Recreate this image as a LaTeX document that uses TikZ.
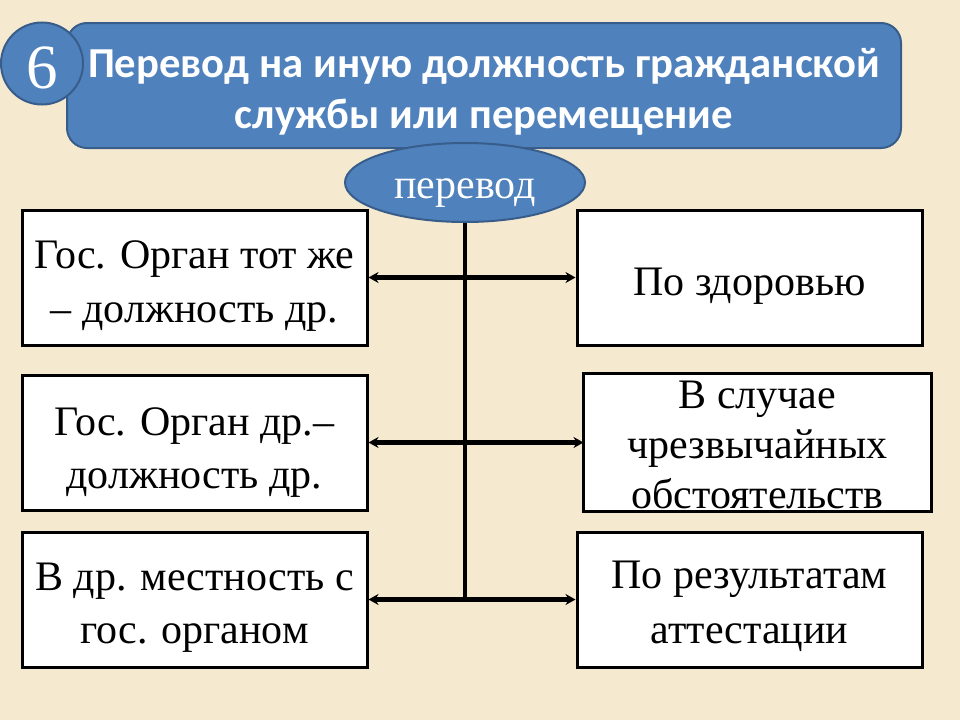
\documentclass[tikz,border=0pt]{standalone}
\usepackage{fontspec}
\setmainfont{Liberation Serif}
\newfontfamily\hdrfont{Carlito}
\usetikzlibrary{shapes.geometric,arrows.meta}
\definecolor{bgc}{RGB}{245,234,207}
\definecolor{bluefill}{RGB}{79,129,189}
\definecolor{blueline}{RGB}{56,93,138}
% #1 raise of first baseline above node centre, #2 line spacing, #3 lines separated by \cr
\newcommand\txtblk[3]{\raisebox{#1}[0pt][0pt]{\vtop{\baselineskip=#2\lineskiplimit=-100pt\lineskip=0pt\halign{\hfil##\hfil\cr#3\crcr}}}}
\tikzset{
  hdrbox/.style={draw=blueline, line width=2pt, fill=bluefill, rounded corners=20pt,
    minimum width=834pt, minimum height=125pt, inner sep=0pt, text=white,
    font=\hdrfont\bfseries\fontsize{42.7}{51}\selectfont},
  numcircle/.style={circle, draw=blueline, line width=2pt, fill=bluefill,
    minimum size=82pt, inner sep=0pt, text=white, font=\fontsize{63}{63}\selectfont},
  oval/.style={ellipse, draw=blueline, line width=2pt, fill=bluefill,
    minimum width=240pt, minimum height=79pt, inner sep=0pt, text=white,
    font=\fontsize{42}{42}\selectfont},
  itembox/.style={draw=black, line width=3pt, fill=white, minimum width=345pt,
    minimum height=135pt, inner sep=0pt, font=\fontsize{42}{54}\selectfont},
  link/.style={line width=3.4pt, draw=black},
  dbl/.style={line width=4.2pt, draw=black, arrows={Stealth[length=10pt,width=11pt]-Stealth[length=10pt,width=11pt]}}
}
\begin{document}
\begin{tikzpicture}[x=1pt,y=-1pt]
\fill[bgc] (0,0) rectangle (960,720);
\useasboundingbox (0,0) rectangle (960,720);
\node[hdrbox] (hdr) at (484,85.5) {\txtblk{8.5pt}{51pt}{Перевод на иную должность гражданской\cr службы или перемещение}};
\node[numcircle] (num) at (42,63.5) {\txtblk{-24.5pt}{60pt}{6}};
\node[oval] (oval) at (465,182.5) {\txtblk{-15.5pt}{42pt}{перевод}};
% boxes
\node[itembox] (L1) at (194.5,277.5) {\txtblk{9.5pt}{54pt}{Гос. Орган тот же\cr – должность др.}};
\node[itembox] (L2) at (194.5,442.5) {\txtblk{7.5pt}{53pt}{Гос. Орган др.–\cr должность др.}};
\node[itembox] (L3) at (194.5,599.5) {\txtblk{9.5pt}{53pt}{В др. местность с\cr гос. органом}};
\node[itembox] (R1) at (749.5,277.5) {\txtblk{-17.5pt}{54pt}{По здоровью}};
\node[itembox, draw=none] (R2) at (757.5,442.5) {\txtblk{34.5pt}{50pt}{В случае\cr чрезвычайных\cr обстоятельств}};
\draw[line width=3pt] (R2.north west) rectangle (R2.south east);
\node[itembox] (R3) at (749.5,599.5) {\txtblk{11.5pt}{55pt}{По результатам\cr аттестации}};
% connectors
\coordinate (bot) at (oval.south |- L3.east);
\draw[link] (oval.south) -- (bot);
\draw[dbl] (L1.east) -- (R1.west);
\draw[dbl] (L2.east) -- (R2.west);
\draw[dbl] (L3.east) -- (R3.west);
\end{tikzpicture}
\end{document}
